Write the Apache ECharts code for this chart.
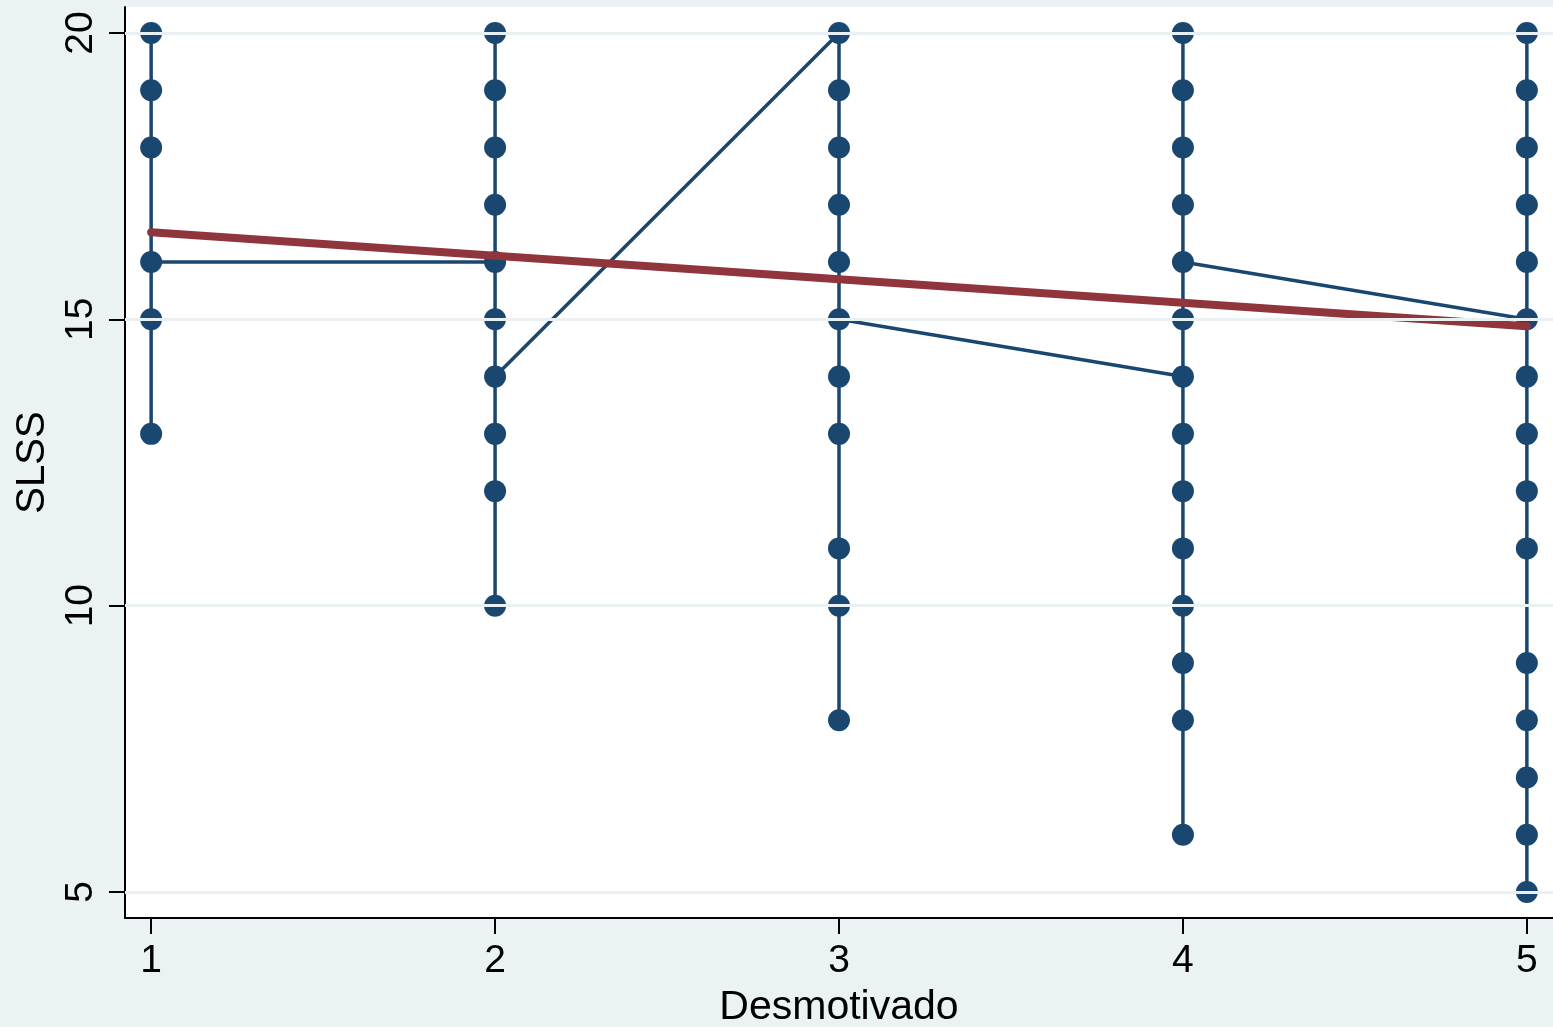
<!DOCTYPE html>
<html>
<head>
<meta charset="utf-8">
<script src="https://cdn.jsdelivr.net/npm/echarts@6/dist/echarts.min.js"></script>
<style>
  html, body { margin: 0; padding: 0; background: #eaf2f3; }
  #chart { width: 1553px; height: 1027px; }
</style>
</head>
<body>
<div id="chart"></div>
<script>
// Desmotivado groups and SLSS values, in the order the connected line visits them
const desmotivado = [1, 2, 3, 4, 5]
const slss1 = [13, 15, 18, 19, 20, 16]
const slss2 = [16, 10, 12, 13, 15, 17, 18, 19, 20, 14]
const slss3 = [20, 8, 10, 11, 13, 14, 16, 17, 18, 19, 15]
const slss4 = [14, 6, 8, 9, 10, 11, 12, 13, 15, 17, 18, 19, 20, 16]
const slss5 = [15, 5, 6, 7, 8, 9, 11, 12, 13, 14, 16, 17, 18, 19, 20]
// linear fit
const fitX = [1, 5]
const fitY = [16.52, 14.88]
const xTicks = [1, 2, 3, 4, 5]
const yTicks = [5, 10, 15, 20]

const groups = [slss1, slss2, slss3, slss4, slss5]
const points = []
groups.forEach(function (vals, i) {
  vals.forEach(function (v) { points.push([desmotivado[i], v]) })
})
const fitData = fitX.map(function (x, i) { return [x, fitY[i]] })

const font = 'Liberation Sans, Arial, Helvetica, sans-serif'
const chart = echarts.init(document.getElementById('chart'))
chart.setOption({
  backgroundColor: '#eaf2f3',
  animation: false,
  grid: {
    left: 125,
    right: 0,
    top: 7,
    bottom: 109,
    containLabel: false,
    outerBoundsMode: 'none',
    show: true,
    backgroundColor: '#ffffff',
    borderWidth: 0
  },
  xAxis: {
    type: 'value',
    min: 0.924,
    max: 5.076,
    name: 'Desmotivado',
    nameLocation: 'middle',
    nameGap: 69,
    nameTextStyle: { color: '#000', fontSize: 41, fontFamily: font },
    axisLine: { show: true, onZero: false, lineStyle: { color: '#000', width: 2 } },
    axisTick: { show: true, length: 16, lineStyle: { color: '#000', width: 2 }, customValues: xTicks },
    axisLabel: { color: '#000', fontSize: 39, fontFamily: font, margin: 24, customValues: xTicks },
    splitLine: { show: false }
  },
  yAxis: {
    type: 'value',
    min: 4.546,
    max: 20.454,
    name: 'SLSS',
    nameLocation: 'middle',
    nameRotate: 90,
    nameGap: 72,
    nameTextStyle: { color: '#000', fontSize: 40, fontFamily: font },
    axisLine: { show: true, onZero: false, lineStyle: { color: '#000', width: 2 } },
    axisTick: { show: true, length: 16, lineStyle: { color: '#000', width: 2 }, customValues: yTicks },
    axisLabel: { color: '#000', fontSize: 39, fontFamily: font, rotate: 90, margin: 24, customValues: yTicks },
    splitLine: { show: false }
  },
  series: [
    {
      // horizontal grid lines
      type: 'line',
      data: [],
      z: 1,
      silent: true,
      markLine: {
        silent: true,
        symbol: ['none', 'none'],
        label: { show: false },
        lineStyle: { color: '#e8f0f2', width: 3, type: 'solid' },
        data: yTicks.map(function (v) { return { yAxis: v } })
      }
    },
    {
      name: 'SLSS',
      type: 'line',
      data: points,
      z: 3,
      symbol: 'circle',
      symbolSize: 22,
      showSymbol: true,
      showAllSymbol: true,
      itemStyle: { color: '#1a476f' },
      lineStyle: { color: '#1a476f', width: 3.5 }
    },
    {
      name: 'Fitted values',
      type: 'line',
      data: fitData,
      z: 4,
      symbol: 'none',
      lineStyle: { color: '#90353b', width: 8, cap: 'round' }
    }
  ]
})
</script>
</body>
</html>
